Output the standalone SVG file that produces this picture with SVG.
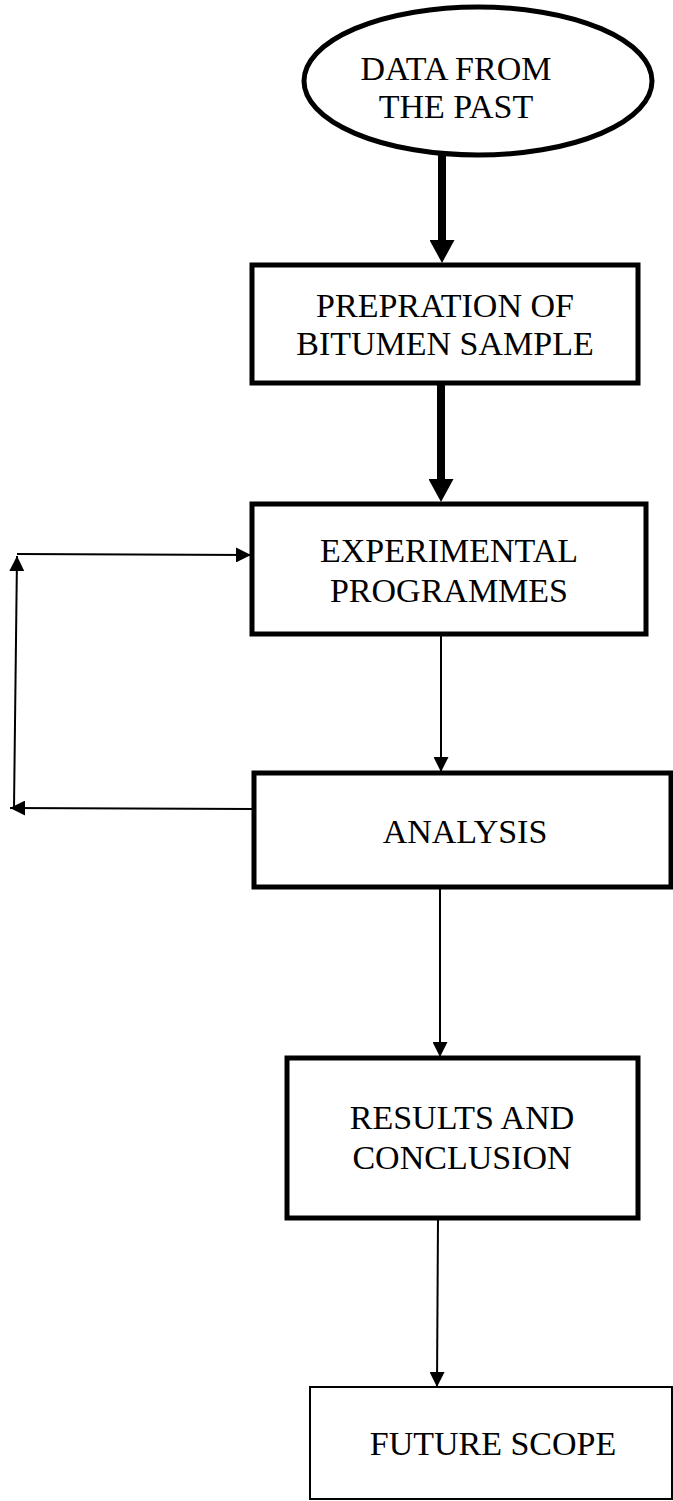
<svg xmlns="http://www.w3.org/2000/svg" width="673" height="1501" viewBox="0 0 673 1501">
<style>
.node{fill:#fff;stroke:#000;stroke-width:5}
.thin{fill:#fff;stroke:#000;stroke-width:2}
.lbl{font-family:"Liberation Serif","Times New Roman",serif;font-size:34px;fill:#000;text-anchor:middle}
.thick{stroke:#000;stroke-width:8;fill:none}
.conn{stroke:#000;stroke-width:2;fill:none}
</style>
<defs>
<marker id="bigHead" markerUnits="userSpaceOnUse" viewBox="0 0 23 25" markerWidth="23" markerHeight="25" refX="0" refY="12.5" orient="auto">
<path d="M0,0 L23,12.5 L0,25 z" fill="#000"/>
</marker>
<marker id="head" markerUnits="userSpaceOnUse" viewBox="0 0 15 15" markerWidth="15" markerHeight="15" refX="15" refY="7.5" orient="auto">
<path d="M0,0 L15,7.5 L0,15 z" fill="#000"/>
</marker>
</defs>
<rect width="673" height="1501" fill="#fff"/>
<g id="connectors">
<line class="thick" x1="442" y1="155" x2="442" y2="240" marker-end="url(#bigHead)"/>
<line class="thick" x1="441" y1="383" x2="441" y2="479" marker-end="url(#bigHead)"/>
<line class="conn" x1="441" y1="634" x2="441" y2="772" marker-end="url(#head)"/>
<line class="conn" x1="253" y1="809" x2="10" y2="808" marker-end="url(#head)"/>
<line class="conn" x1="14" y1="808" x2="17" y2="556" marker-end="url(#head)"/>
<line class="conn" x1="17" y1="554" x2="251" y2="555" marker-end="url(#head)"/>
<line class="conn" x1="440" y1="887" x2="440" y2="1057" marker-end="url(#head)"/>
<line class="conn" x1="438" y1="1218" x2="437" y2="1387" marker-end="url(#head)"/>
</g>
<g id="n1">
<ellipse class="node" cx="478" cy="81" rx="174" ry="74"/>
<text class="lbl" x="456" y="80">DATA FROM</text>
<text class="lbl" x="456" y="118">THE PAST</text>
</g>
<g id="n2">
<rect class="node" x="252" y="265" width="386" height="118"/>
<text class="lbl" x="445" y="317">PREPRATION OF</text>
<text class="lbl" x="445" y="355">BITUMEN SAMPLE</text>
</g>
<g id="n3">
<rect class="node" x="252" y="504" width="394" height="130"/>
<text class="lbl" x="449" y="562">EXPERIMENTAL</text>
<text class="lbl" x="449" y="602">PROGRAMMES</text>
</g>
<g id="n4">
<rect class="node" x="254" y="773" width="417" height="114"/>
<text class="lbl" x="465" y="843">ANALYSIS</text>
</g>
<g id="n5">
<rect class="node" x="287" y="1058" width="351" height="160"/>
<text class="lbl" x="462" y="1129">RESULTS AND</text>
<text class="lbl" x="462" y="1169">CONCLUSION</text>
</g>
<g id="n6">
<rect class="thin" x="310" y="1387" width="362" height="112"/>
<text class="lbl" x="493" y="1455">FUTURE SCOPE</text>
</g>
</svg>
